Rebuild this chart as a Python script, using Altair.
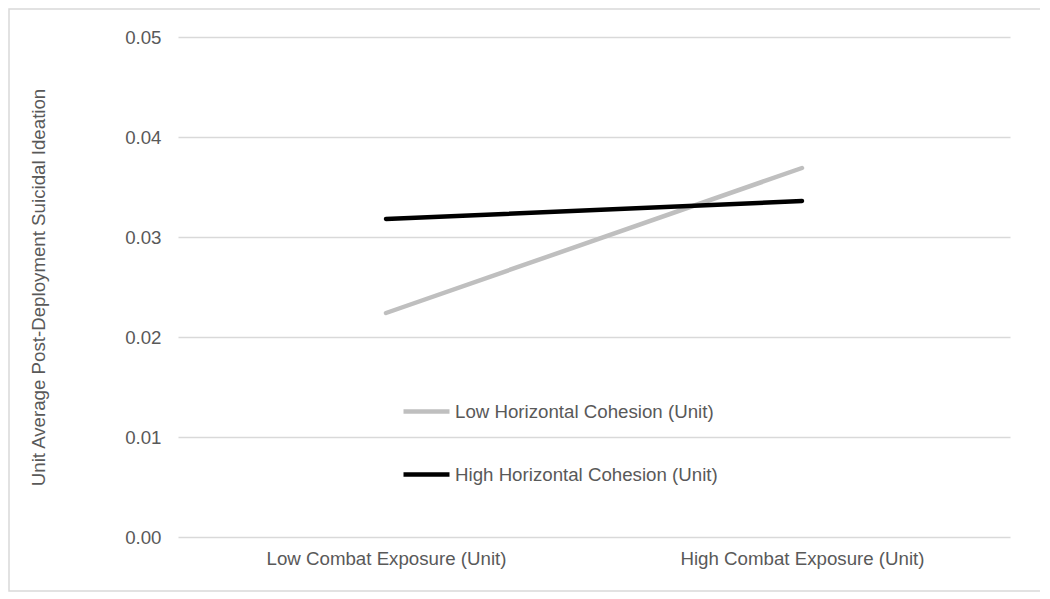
import altair as alt
import pandas as pd

exposure = ["Low Combat Exposure (Unit)", "High Combat Exposure (Unit)"]
series = ["Low Horizontal Cohesion (Unit)", "High Horizontal Cohesion (Unit)"]
low_cohesion = [0.0224, 0.0369]
high_cohesion = [0.0318, 0.0336]
y_ticks = [0.0, 0.01, 0.02, 0.03, 0.04, 0.05]

rows = []
for s, vals in zip(series, [low_cohesion, high_cohesion]):
    for e, v in zip(exposure, vals):
        rows.append({"exposure": e, "series": s, "value": v})
df = pd.DataFrame(rows)

W, H = 832, 500
PL, PT = 170, 29
FS = 18.7
FC = "#595959"
FONT = "Liberation Sans"

lines = alt.Chart(df).mark_line(strokeWidth=4.5, strokeCap="round").encode(
    x=alt.X("exposure:N", sort=exposure,
            scale=alt.Scale(type="point", padding=0.5),
            axis=alt.Axis(title=None, labelAngle=0, ticks=False, domain=False,
                          labelPadding=12, labelFontSize=FS, labelColor=FC, labelLimit=0,
                          labelFont=FONT, grid=False)),
    y=alt.Y("value:Q", scale=alt.Scale(domain=[0, 0.05]),
            axis=alt.Axis(title="Unit Average Post-Deployment Suicidal Ideation",
                          values=y_ticks, format=".2f", ticks=False, domain=False,
                          gridColor="#d9d9d9", gridWidth=1.3,
                          labelPadding=17, labelFontSize=FS, labelColor=FC,
                          labelFont=FONT,
                          titleFontSize=FS, titleColor=FC, titleFontWeight="normal",
                          titleFont=FONT, titlePadding=76)),
    color=alt.Color("series:N", sort=series,
                    scale=alt.Scale(domain=series, range=["#bfbfbf", "#000000"]),
                    legend=alt.Legend(title=None, orient="none", legendX=223, legendY=349,
                                      symbolType="stroke", symbolSize=2116,
                                      symbolStrokeWidth=4.5, labelOffset=3,
                                      rowPadding=27, labelFontSize=FS, labelLimit=0,
                                      labelColor=FC, labelFont=FONT)),
)

border = alt.Chart(pd.DataFrame({"a": [0]})).mark_rect(
    fill=None, stroke="#d9d9d9", strokeWidth=1.5
).encode(
    x=alt.value(-PL + 1), x2=alt.value(W + 33), y=alt.value(-PT + 1), y2=alt.value(H + 54)
)

chart = alt.layer(border, lines).properties(
    width=W, height=H,
    autosize=alt.AutoSizeParams(type="none"),
    padding={"left": PL, "top": PT, "right": 30, "bottom": 60},
).configure_view(stroke=None)

chart.save("out.html", embed_options={"renderer": "svg", "actions": False})
